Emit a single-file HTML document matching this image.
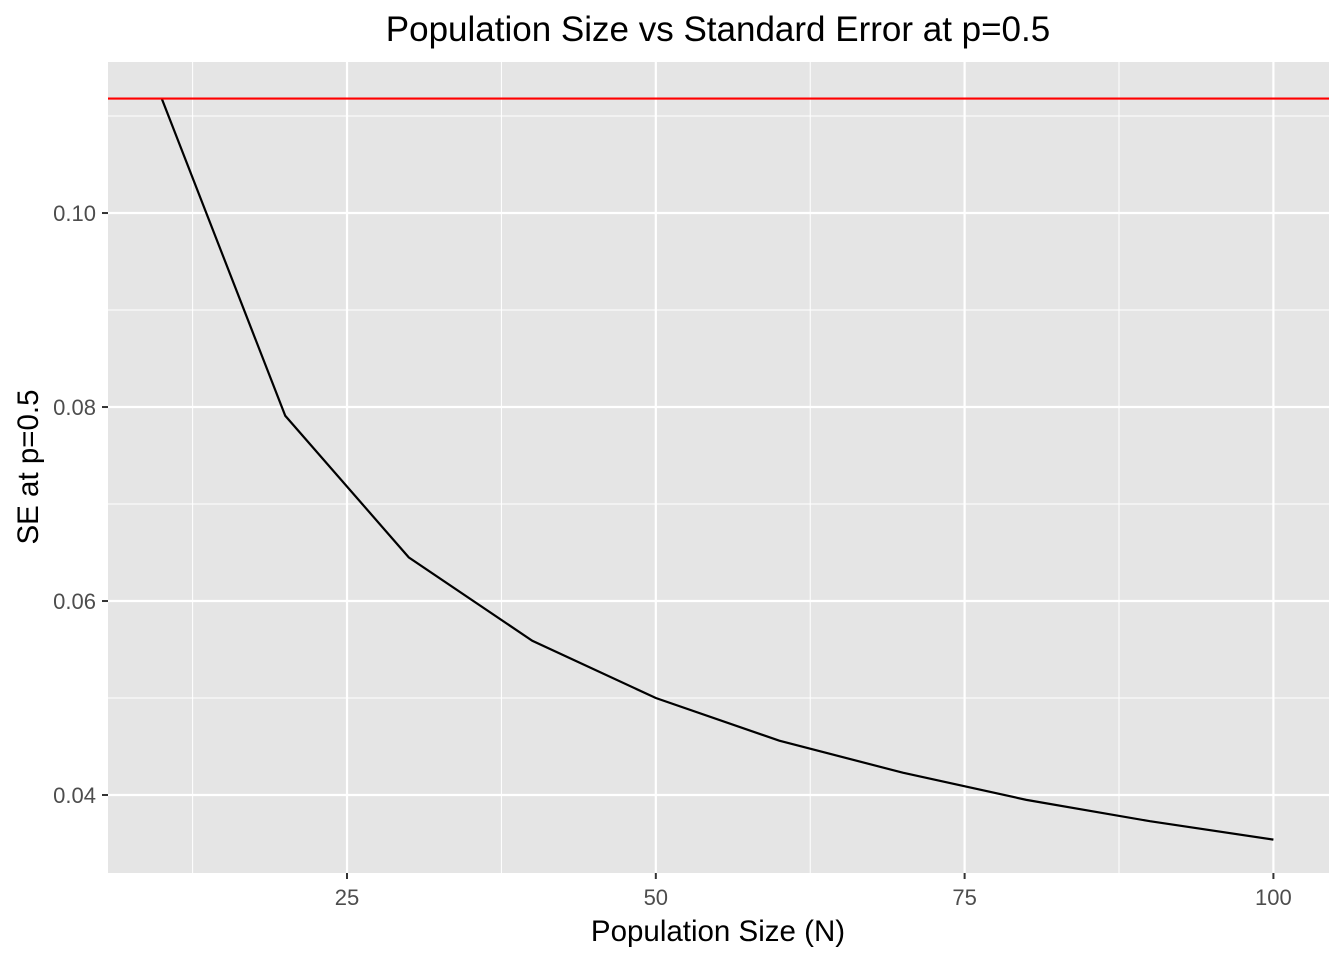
<!DOCTYPE html>
<html><head><meta charset="utf-8"><style>
body{margin:0;background:#fff;font-family:"Liberation Sans",Arial,sans-serif}
</style></head><body>
<svg width="1344" height="960" xmlns="http://www.w3.org/2000/svg">
<text x="718" y="41" text-anchor="middle" font-size="35" font-family="Liberation Sans">Population Size vs Standard Error at p=0.5</text>
<rect x="108" y="62" width="1221" height="811" fill="#e5e5e5"/>
<g id="grid"></g>
<g id="marks"></g>
<g id="axes"></g>
<text x="718" y="941" text-anchor="middle" font-size="29.5" font-family="Liberation Sans">Population Size (N)</text>
<text transform="translate(38,467) rotate(-90)" text-anchor="middle" font-size="29.5" font-family="Liberation Sans">SE at p=0.5</text>
</svg>
<script>
const popSizes=[10,20,30,40,50,60,70,80,90,100];
const seValues=[0.1118,0.0791,0.0645,0.0559,0.05,0.0456,0.0423,0.0395,0.0373,0.0354];
const refLine=[0.1118];
const xTicks=[25,50,75,100];
const xMinor=[12.5,37.5,62.5,87.5];
const yTicks=[0.04,0.06,0.08,0.10];
const yTickLabels=["0.04","0.06","0.08","0.10"];
const yMinor=[0.03,0.05,0.07,0.09,0.11];
const X0=108,X1=1329,Y0=62,Y1=873,xmin=5.65,xmax=104.5,ymin=0.03196,ymax=0.11557;
const xs=v=>X0+(v-xmin)/(xmax-xmin)*(X1-X0);
const ys=v=>Y1-(v-ymin)/(ymax-ymin)*(Y1-Y0);
const NS="http://www.w3.org/2000/svg";
function mk(parent,tag,attrs){const e=document.createElementNS(NS,tag);for(const k in attrs)e.setAttribute(k,attrs[k]);document.getElementById(parent).appendChild(e);return e;}
xMinor.forEach(v=>{const e=mk('grid','line',{x1:xs(v),x2:xs(v),y1:Y0,y2:Y1,stroke:'#fff','stroke-width':1});

});
yMinor.forEach(v=>{const y=ys(v);if(y<Y0||y>Y1)return;const e=mk('grid','line',{x1:X0,x2:X1,y1:y,y2:y,stroke:'#fff','stroke-width':1});

});
xTicks.forEach(v=>{const e=mk('grid','line',{x1:xs(v),x2:xs(v),y1:Y0,y2:Y1,stroke:'#fff','stroke-width':2.2});


const t=mk('axes','line',{x1:xs(v),x2:xs(v),y1:Y1,y2:Y1+6,stroke:'#333','stroke-width':2});


const l=mk('axes','text',{x:xs(v),y:Y1+32,'text-anchor':'middle','font-size':22,fill:'#4d4d4d'});l.textContent=v;

});
yTicks.forEach((v,i)=>{const y=ys(v);const e=mk('grid','line',{x1:X0,x2:X1,y1:y,y2:y,stroke:'#fff','stroke-width':2.2});


const t=mk('axes','line',{x1:X0-6,x2:X0,y1:y,y2:y,stroke:'#333','stroke-width':2});


const l=mk('axes','text',{x:X0-12,y:y+8,'text-anchor':'end','font-size':22,fill:'#4d4d4d'});l.textContent=yTickLabels[i];

});
const p=mk('marks','polyline',{points:popSizes.map((n,i)=>xs(n)+','+ys(seValues[i])).join(' '),fill:'none',stroke:'#000','stroke-width':2.2});


refLine.forEach(v=>{const r=mk('marks','line',{x1:X0,x2:X1,y1:ys(v),y2:ys(v),stroke:'#ff0000','stroke-width':2.2});

});
</script>
</body></html>
